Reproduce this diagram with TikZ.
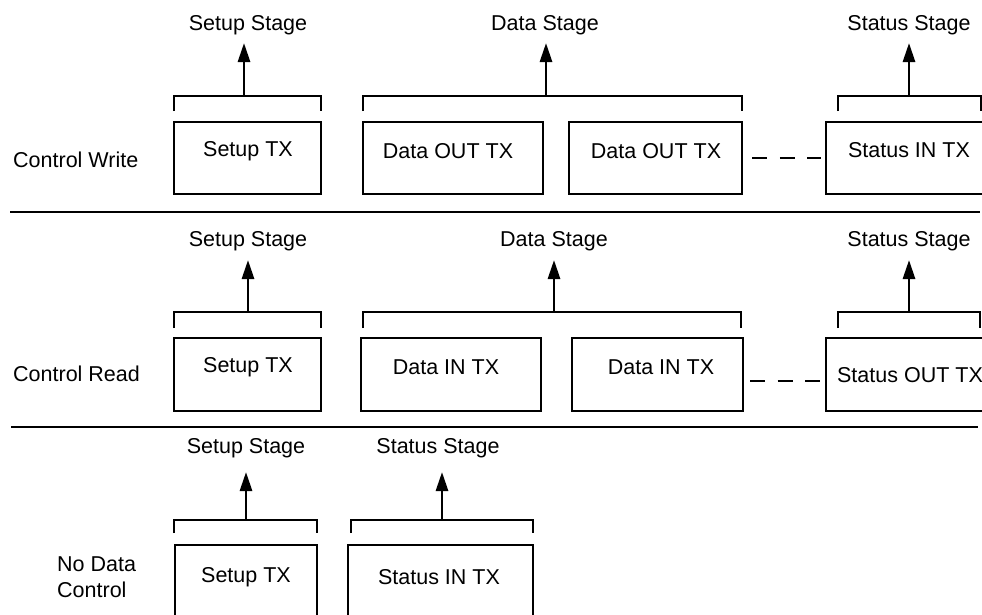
\documentclass[tikz,border=0pt]{standalone}
\usepackage{fontspec}
\setmainfont{Liberation Sans}
\usetikzlibrary{arrows.meta}
\begin{document}
\begin{tikzpicture}[x=1pt,y=-1pt,
  every node/.style={font=\fontsize{21.5}{26}\selectfont, inner sep=0pt},
  box/.style={draw, line width=2.8pt, inner sep=0pt},
  brk/.style={line width=2.8pt},
  sep/.style={line width=2.8pt},
  arr/.style={line width=2.8pt, -{Triangle[width=12pt,length=19pt]}},
  dsh/.style={line width=2.8pt, dash pattern=on 15pt off 12.5pt},
  lab/.style={anchor=west, align=left}]
\useasboundingbox (0,0) rectangle (982,614);
\clip (0,0) rectangle (982,614);

% separators
\draw[sep] (10,212) -- (980,212);
\draw[sep] (11,427) -- (978,427);

% ---------- Row 1: Control Write ----------
\node[lab] (cw) at (13,160) {Control Write};
\node[box, minimum width=147pt, minimum height=72pt] (w1) at (247.5,158) {};
\node[box, minimum width=180pt, minimum height=72pt] (w2) at (453,158) {};
\node[box, minimum width=173pt, minimum height=72pt] (w3) at (655.5,158) {};
\node[box, minimum width=167pt, minimum height=72pt] (w4) at (909.5,158) {};
\node (w1t) at (248,151) {Setup TX};
\node (w2t) at (448,151) {Data OUT TX};
\node (w3t) at (656,151) {Data OUT TX};
\node (w4t) at (909,150) {Status IN TX};
\draw[dsh, shorten <=9pt, shorten >=4pt] (w3.east) -- (w4.west);

\draw[brk] (174,111) -- (174,96) -- (321,96) -- (321,111);
\draw[brk] (363,111) -- (363,96) -- (742,96) -- (742,111);
\draw[brk] (838,111) -- (838,96) -- (981,96) -- (981,111);
\coordinate (wb1) at (244,96);
\coordinate (wb2) at (546,96);
\coordinate (wb3) at (909,96);
\node (ws1) at (248,25) {Setup Stage};
\node (ws2) at (545,25) {Data Stage};
\node (ws3) at (909,25) {Status Stage};
\coordinate (wt1) at (244,43);
\coordinate (wt2) at (546,43);
\coordinate (wt3) at (909,43);
\draw[arr] (wb1) -- (wt1);
\draw[arr] (wb2) -- (wt2);
\draw[arr] (wb3) -- (wt3);

% ---------- Row 2: Control Read ----------
\node[lab] (cr) at (13,374) {Control Read};
\node[box, minimum width=147pt, minimum height=73pt] (r1) at (247.5,374.5) {};
\node[box, minimum width=180pt, minimum height=73pt] (r2) at (451,374.5) {};
\node[box, minimum width=171pt, minimum height=73pt] (r3) at (657.5,374.5) {};
\node[box, minimum width=167pt, minimum height=73pt] (r4) at (909.5,374.5) {};
\node (r1t) at (248,367) {Setup TX};
\node (r2t) at (446,367) {Data IN TX};
\node (r3t) at (661,367) {Data IN TX};
\node (r4t) at (910,375) {Status OUT TX};
\coordinate (rd1) at (743,381);
\coordinate (rd2) at (826,381);
\draw[dsh, shorten <=7pt, shorten >=4pt] (rd1) -- (rd2);

\draw[brk] (174,328) -- (174,312) -- (321,312) -- (321,328);
\draw[brk] (363,328) -- (363,312) -- (741,312) -- (741,328);
\draw[brk] (838,328) -- (838,312) -- (980,312) -- (980,328);
\coordinate (rb1) at (248,312);
\coordinate (rb2) at (554,312);
\coordinate (rb3) at (909,312);
\node (rs1) at (248,241) {Setup Stage};
\node (rs2) at (554,241) {Data Stage};
\node (rs3) at (909,241) {Status Stage};
\coordinate (rt1) at (248,260);
\coordinate (rt2) at (554,260);
\coordinate (rt3) at (909,260);
\draw[arr] (rb1) -- (rt1);
\draw[arr] (rb2) -- (rt2);
\draw[arr] (rb3) -- (rt3);

% ---------- Row 3: No Data Control ----------
\node[lab] (nd) at (57,577) {No Data\\Control};
\node[box, minimum width=142pt, minimum height=72pt] (n1) at (246,581) {};
\node[box, minimum width=185pt, minimum height=72pt] (n2) at (440.5,581) {};
\node (n1t) at (246,577) {Setup TX};
\node (n2t) at (439,577) {Status IN TX};

\draw[brk] (174,533) -- (174,520) -- (317,520) -- (317,533);
\draw[brk] (351,533) -- (351,520) -- (533,520) -- (533,533);
\coordinate (nb1) at (246,520);
\coordinate (nb2) at (442,520);
\node (ns1) at (246,448) {Setup Stage};
\node (ns2) at (438,448) {Status Stage};
\coordinate (nt1) at (246,472);
\coordinate (nt2) at (442,472);
\draw[arr] (nb1) -- (nt1);
\draw[arr] (nb2) -- (nt2);
\end{tikzpicture}
\end{document}
